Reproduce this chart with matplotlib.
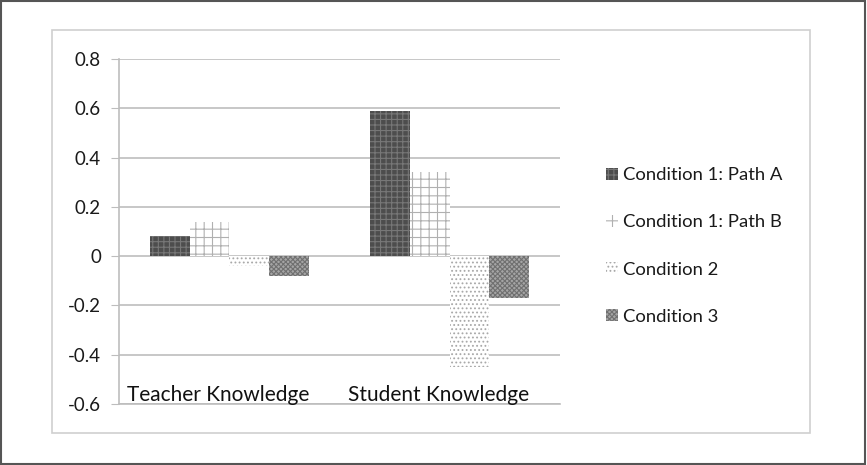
import matplotlib
matplotlib.use("Agg")
import matplotlib.pyplot as plt
from matplotlib.patches import Patch, Rectangle
import numpy as np

categories = ["Teacher Knowledge", "Student Knowledge"]
series_names = ["Condition 1: Path A", "Condition 1: Path B", "Condition 2", "Condition 3"]
path_a = [0.08, 0.59]
path_b = [0.14, 0.34]
cond_2 = [-0.04, -0.45]
cond_3 = [-0.08, -0.17]
y_ticks = [0.8, 0.6, 0.4, 0.2, 0, -0.2, -0.4, -0.6]
y_tick_labels = ["0.8", "0.6", "0.4", "0.2", "0", "-0.2", "-0.4", "-0.6"]

plt.rcParams['font.family'] = ['Lato', 'DejaVu Sans']
plt.rcParams['hatch.linewidth'] = 0.8

styles = [
    dict(facecolor="#4d4d4d", edgecolor="#777777", hatch="+++"),
    dict(facecolor="#ffffff", edgecolor="#b0b0b0", hatch="++"),
    dict(facecolor="#ffffff", edgecolor="#a8a8a8", hatch="...."),
    dict(facecolor="#a5a5a5", edgecolor="#707070", hatch="xxxxxxx"),
]

fig = plt.figure(figsize=(8.67, 4.65), dpi=100)
fig.patch.set_facecolor("white")
# outer border
fig.add_artist(Rectangle((0.001, 0.002), 0.997, 0.995, transform=fig.transFigure,
                         fill=False, edgecolor="#555555", linewidth=1.5))
# inner chart frame
fig.add_artist(Rectangle((52/867, 1-433/465), (810-52)/867, (433-30)/465,
                         transform=fig.transFigure, fill=False,
                         edgecolor="#cfcfcf", linewidth=1.2))

ax = fig.add_axes([119/867, 1-404/465, (560-119)/867, (404-59)/465])
x = np.arange(len(categories))
w = 0.18
data = [path_a, path_b, cond_2, cond_3]
for i, (vals, st) in enumerate(zip(data, styles)):
    ax.bar(x + (i - 1.5) * w, vals, width=w, linewidth=0, zorder=3, **st)

ax.set_xlim(-0.5, 1.5)
ax.set_ylim(-0.6, 0.8)
ax.set_yticks(y_ticks)
ax.set_yticklabels(y_tick_labels, fontsize=13.5, color="#1a1a1a")
ax.yaxis.grid(True, color="#bdbdbd", linewidth=1.2, zorder=0)
ax.set_axisbelow(True)
ax.tick_params(axis="y", length=6, color="#bdbdbd", pad=7)
ax.tick_params(axis="x", length=0, labelbottom=False)
for s in ["top", "right"]:
    ax.spines[s].set_visible(False)
ax.spines["left"].set_color("#bdbdbd")
ax.spines["left"].set_linewidth(1.2)
ax.spines["bottom"].set_color("#bdbdbd")
ax.spines["bottom"].set_linewidth(1.2)

for xi, lab in zip(x, categories):
    ax.text(xi - 0.05, -0.605, lab, ha="center", va="bottom", fontsize=15, color="#111111")

handles = [Patch(**st, linewidth=0) for st in styles]
leg = fig.legend(handles, series_names, loc="center left",
                 bbox_to_anchor=(589/867, 1-246/465), frameon=False,
                 fontsize=13.3, handlelength=0.65, handleheight=0.65,
                 handletextpad=0.3, labelspacing=1.68)
for t in leg.get_texts():
    t.set_color("#1a1a1a")

fig.savefig("out.png", dpi=100)
